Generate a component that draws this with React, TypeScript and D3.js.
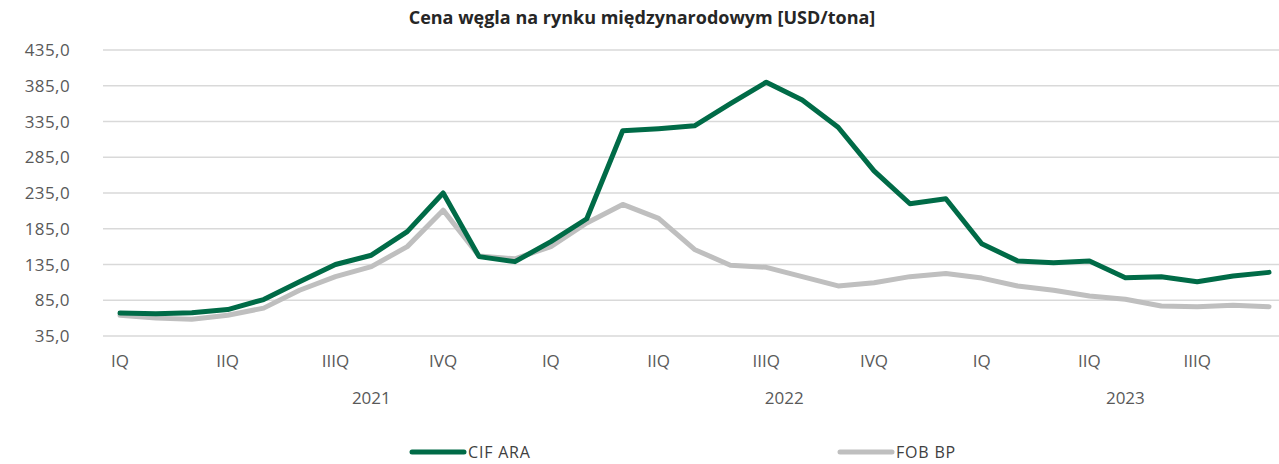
// Coal price chart (CIF ARA vs FOB BP), monthly 2021-2023.

import * as d3 from "d3";

const quarterLabels = [
  "IQ", "", "", "IIQ", "", "", "IIIQ", "", "", "IVQ", "", "",
  "IQ", "", "", "IIQ", "", "", "IIIQ", "", "", "IVQ", "", "",
  "IQ", "", "", "IIQ", "", "", "IIIQ", "", "",
];
// year label sits centred over the category index given
const yearLabels = ["2021", "2022", "2023"];
const yearAt = [7, 18.5, 28];

const cifAra = [
  67, 66, 67.5, 72, 86, 111, 135, 148, 181, 235,
  146, 139, 167, 199, 322, 325, 329, 360, 390, 365,
  327, 266, 220, 227, 164, 140, 137.5, 140, 116.5, 118,
  111, 119, 124,
];
const fobBp = [
  64, 60, 58.5, 64, 74, 99, 118, 132, 160, 211,
  147, 143, 160, 193, 219, 199.5, 156, 134, 131, 118,
  105, 109.5, 118, 122.5, 116, 105, 99, 91, 86.5, 77,
  76, 78, 76,
];
const yTicks = [35, 85, 135, 185, 235, 285, 335, 385, 435];

const seriesNames = ["CIF ARA", "FOB BP"];
const seriesColors = ["#006B47", "#BFBFBF"];

export default function App() {
  const width = 1279;
  const height = 464;
  const font = "'Open Sans', sans-serif";

  const x = d3
    .scalePoint<number>()
    .domain(d3.range(quarterLabels.length))
    .range([120, 1269]);
  const xFrac = d3.scaleLinear([0, quarterLabels.length - 1], [120, 1269]);
  const y = d3.scaleLinear([35, 435], [336, 50]);

  const line = d3
    .line<number>()
    .x((d, i) => x(i) as number)
    .y((d) => y(d));

  const fmt = (v: number) => d3.format(".1f")(v).replace(".", ",");

  return (
    <>
      <style>{`body{margin:0}`}</style>
      <svg width={width} height={height} style={{ display: "block" }}>
        <rect width={width} height={height} fill="white" />
        <text
          x={642}
          y={24}
          textAnchor="middle"
          fontFamily={font}
          fontWeight="bold"
          fontSize={18}
          fill="#262626"
        >
          Cena węgla na rynku międzynarodowym [USD/tona]
        </text>

        <g>
          {yTicks.map((t) => (
            <g key={t}>
              <line
                x1={103}
                x2={width}
                y1={y(t)}
                y2={y(t)}
                stroke="#D9D9D9"
                strokeWidth={1.5}
              />
              <text
                x={70}
                y={y(t)}
                dy="0.36em"
                textAnchor="end"
                fontFamily={font}
                fontSize={17}
                letterSpacing={0.4}
                fill="#595959"
              >
                {fmt(t)}
              </text>
            </g>
          ))}
        </g>

        <g fontFamily={font} fontSize={17} fill="#595959" textAnchor="middle">
          {quarterLabels.map((q, i) =>
            q ? (
              <text key={i} x={x(i)} y={361} dy="0.36em">
                {q}
              </text>
            ) : null,
          )}
          {yearLabels.map((yr, i) => (
            <text key={yr} x={xFrac(yearAt[i])} y={398} dy="0.36em">
              {yr}
            </text>
          ))}
        </g>

        {[fobBp, cifAra].map((s, k) => (
          <path
            key={k}
            d={line(s) ?? ""}
            fill="none"
            stroke={k === 0 ? seriesColors[1] : seriesColors[0]}
            strokeWidth={5}
            strokeLinejoin="round"
            strokeLinecap="round"
          />
        ))}

        <g fontFamily={font} fontSize={16} fill="#404040" letterSpacing={0.8}>
          {seriesNames.map((n, i) => {
            const lx = i === 0 ? 412 : 840;
            return (
              <g key={n}>
                <line
                  x1={lx}
                  x2={lx + 52}
                  y1={452}
                  y2={452}
                  stroke={seriesColors[i]}
                  strokeWidth={5}
                  strokeLinecap="round"
                />
                <text x={lx + 56} y={452} dy="0.36em">
                  {n}
                </text>
              </g>
            );
          })}
        </g>
      </svg>
    </>
  );
}
